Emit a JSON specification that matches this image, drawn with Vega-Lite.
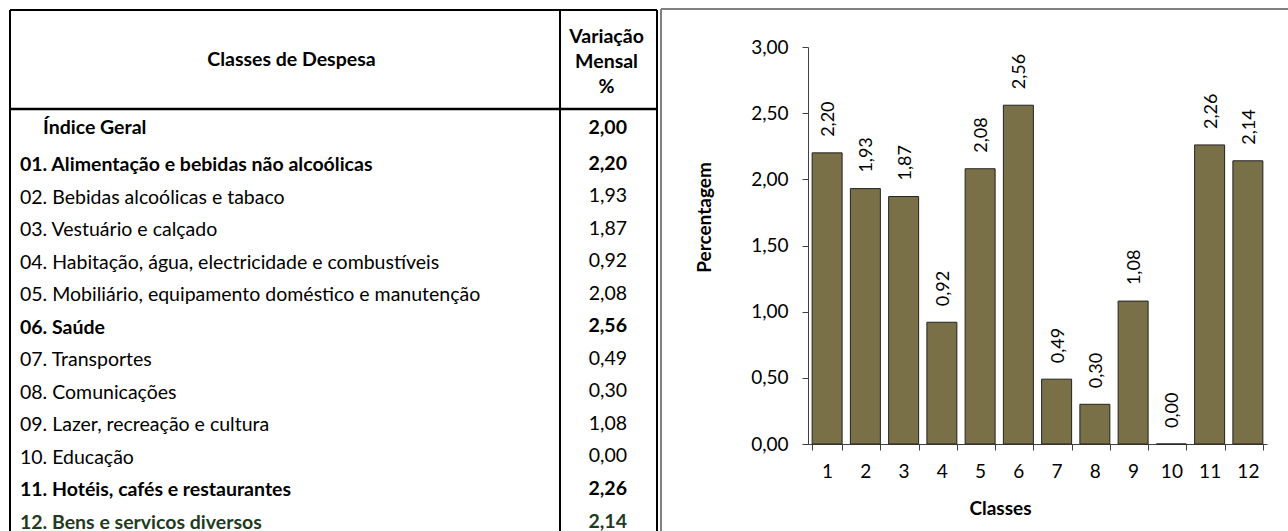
{
  "$schema": "https://vega.github.io/schema/vega-lite/v6.json",
  "width": 459,
  "height": 397,
  "autosize": {"type": "none"},
  "padding": {"left": 808, "top": 47, "right": 21, "bottom": 87},
  "background": "white",
  "config": {
    "view": {"stroke": null},
    "font": "Lato",
    "locale": {"number": {"decimal": ",", "thousands": ".", "grouping": [3], "currency": ["", " €"]}}
  },
  "datasets": {
    "ipc": [
      {"num": 0, "classe": "Índice Geral", "valor": 2.00},
      {"num": 1, "classe": "01. Alimentação e bebidas não alcoólicas", "valor": 2.20},
      {"num": 2, "classe": "02. Bebidas alcoólicas e tabaco", "valor": 1.93},
      {"num": 3, "classe": "03. Vestuário e calçado", "valor": 1.87},
      {"num": 4, "classe": "04. Habitação, água, electricidade e combustíveis", "valor": 0.92},
      {"num": 5, "classe": "05. Mobiliário, equipamento doméstico e manutenção", "valor": 2.08},
      {"num": 6, "classe": "06. Saúde", "valor": 2.56},
      {"num": 7, "classe": "07. Transportes", "valor": 0.49},
      {"num": 8, "classe": "08. Comunicações", "valor": 0.30},
      {"num": 9, "classe": "09. Lazer, recreação e cultura", "valor": 1.08},
      {"num": 10, "classe": "10. Educação", "valor": 0.00},
      {"num": 11, "classe": "11. Hotéis, cafés e restaurantes", "valor": 2.26},
      {"num": 12, "classe": "12. Bens e servicos diversos", "valor": 2.14}
    ]
  },
  "data": {"name": "ipc"},
  "layer": [
    {
      "layer": [
        {
          "data": {"values": [{}]},
          "mark": {"type": "rule", "color": "black", "strokeWidth": 2},
          "encoding": {
            "x": {"datum": 0, "type": "quantitative", "scale": {"domain": [0, 1], "range": [-798, -151], "nice": false, "zero": false}, "axis": null},
            "y": {"datum": -3.763, "type": "quantitative", "scale": {"domain": [1, 12], "range": [118, 476], "nice": false, "zero": false}, "axis": null},
            "y2": {"datum": 13.5}
          }
        },
        {
          "data": {"values": [{}]},
          "mark": {"type": "rule", "color": "black", "strokeWidth": 2},
          "encoding": {
            "x": {"datum": 1, "type": "quantitative"},
            "y": {"datum": -3.763, "type": "quantitative"},
            "y2": {"datum": 13.5}
          }
        },
        {
          "data": {"values": [{}]},
          "mark": {"type": "rule", "color": "black", "strokeWidth": 2},
          "encoding": {
            "x": {"datum": 0.8501, "type": "quantitative"},
            "y": {"datum": -3.763, "type": "quantitative"},
            "y2": {"datum": 13.5}
          }
        },
        {
          "data": {"values": [{}]},
          "mark": {"type": "rule", "color": "black", "strokeWidth": 2},
          "encoding": {
            "x": {"datum": 0, "type": "quantitative"},
            "x2": {"datum": 1},
            "y": {"datum": -3.763, "type": "quantitative"}
          }
        },
        {
          "data": {"values": [{}]},
          "mark": {"type": "rule", "color": "black", "strokeWidth": 2.5},
          "encoding": {
            "x": {"datum": 0, "type": "quantitative"},
            "x2": {"datum": 1},
            "y": {"datum": -0.721, "type": "quantitative"}
          }
        },
        {
          "data": {"values": [{}]},
          "mark": {"type": "rule", "color": "#808080", "strokeWidth": 2},
          "encoding": {
            "x": {"datum": 1.0062, "type": "quantitative"},
            "x2": {"datum": 2},
            "y": {"datum": -3.794, "type": "quantitative"}
          }
        },
        {
          "data": {"values": [{}]},
          "mark": {"type": "rule", "color": "#808080", "strokeWidth": 2},
          "encoding": {
            "x": {"datum": 1.0062, "type": "quantitative"},
            "y": {"datum": -3.794, "type": "quantitative"},
            "y2": {"datum": 13.5}
          }
        },
        {
          "data": {"values": [{"titulo": "Classes de Despesa"}]},
          "mark": {"type": "text", "align": "center", "baseline": "middle", "fontSize": 19.5, "fontWeight": "bold", "color": "black"},
          "encoding": {
            "text": {"field": "titulo"},
            "x": {"datum": 0.435, "type": "quantitative"},
            "y": {"datum": -2.226, "type": "quantitative"}
          }
        },
        {
          "data": {"values": [{"titulo": "Variação\nMensal\n%"}]},
          "mark": {"type": "text", "align": "center", "baseline": "middle", "fontSize": 19.5, "fontWeight": "bold", "color": "black", "lineBreak": "\n", "lineHeight": 25},
          "encoding": {
            "text": {"field": "titulo"},
            "x": {"datum": 0.922, "type": "quantitative"},
            "y": {"datum": -2.933, "type": "quantitative"}
          }
        },
        {
          "transform": [{"filter": "datum.num > 0 && indexof([1, 6, 11, 12], datum.num) < 0"}],
          "mark": {"type": "text", "align": "left", "baseline": "middle", "fontSize": 19.5, "dx": 10, "color": "black"},
          "encoding": {
            "text": {"field": "classe"},
            "x": {"datum": 0, "type": "quantitative"},
            "y": {"field": "num", "type": "quantitative"}
          }
        },
        {
          "transform": [{"filter": "indexof([1, 6, 11, 12], datum.num) >= 0"}],
          "mark": {"type": "text", "align": "left", "baseline": "middle", "fontSize": 19.5, "dx": 10, "fontWeight": "bold"},
          "encoding": {
            "text": {"field": "classe"},
            "x": {"datum": 0, "type": "quantitative"},
            "y": {"field": "num", "type": "quantitative"},
            "color": {"condition": {"test": "datum.num == 12", "value": "#1F3B1F"}, "value": "black"}
          }
        },
        {
          "transform": [{"filter": "datum.num == 0"}],
          "mark": {"type": "text", "align": "left", "baseline": "middle", "fontSize": 19.5, "dx": 33, "dy": -4.5, "fontWeight": "bold", "color": "black"},
          "encoding": {
            "text": {"field": "classe"},
            "x": {"datum": 0, "type": "quantitative"},
            "y": {"field": "num", "type": "quantitative"}
          }
        },
        {
          "transform": [{"filter": "datum.num > 0 && indexof([1, 6, 11, 12], datum.num) < 0"}],
          "mark": {"type": "text", "align": "right", "baseline": "middle", "fontSize": 19.5, "dx": -30, "dy": -1.5, "color": "black"},
          "encoding": {
            "text": {"field": "valor", "type": "quantitative", "format": ".2f"},
            "x": {"datum": 1, "type": "quantitative"},
            "y": {"field": "num", "type": "quantitative"}
          }
        },
        {
          "transform": [{"filter": "indexof([1, 6, 11, 12], datum.num) >= 0"}],
          "mark": {"type": "text", "align": "right", "baseline": "middle", "fontSize": 19.5, "dx": -30, "dy": -1.5, "fontWeight": "bold"},
          "encoding": {
            "text": {"field": "valor", "type": "quantitative", "format": ".2f"},
            "x": {"datum": 1, "type": "quantitative"},
            "y": {"field": "num", "type": "quantitative"},
            "color": {"condition": {"test": "datum.num == 12", "value": "#1F3B1F"}, "value": "black"}
          }
        },
        {
          "transform": [{"filter": "datum.num == 0"}],
          "mark": {"type": "text", "align": "right", "baseline": "middle", "fontSize": 19.5, "dx": -30, "dy": -4.5, "fontWeight": "bold", "color": "black"},
          "encoding": {
            "text": {"field": "valor", "type": "quantitative", "format": ".2f"},
            "x": {"datum": 1, "type": "quantitative"},
            "y": {"field": "num", "type": "quantitative"}
          }
        }
      ]
    },
    {
      "transform": [{"filter": "datum.num >= 1"}],
      "layer": [
        {
          "mark": {"type": "bar", "fill": "#7A7048", "stroke": "#222222", "strokeWidth": 1},
          "encoding": {
            "x": {
              "field": "num", "type": "ordinal",
              "scale": {"paddingInner": 0.216, "paddingOuter": 0.108},
              "axis": {
                "orient": "bottom",
                "title": "Classes", "labelAngle": 0, "tickBand": "extent", "tickSize": 6,
                "labelPadding": 12, "labelFontSize": 19, "labelColor": "black",
                "domainColor": "#404040", "tickColor": "#404040",
                "titleFontSize": 19, "titleFontWeight": "bold", "titleColor": "black",
                "titleX": 192, "titleY": 64, "titleAlign": "center", "titleBaseline": "middle"
              }
            },
            "y": {
              "field": "valor", "type": "quantitative",
              "scale": {"domain": [0, 3], "nice": false},
              "axis": {
                "orient": "left",
                "title": "Percentagem", "values": [0, 0.5, 1, 1.5, 2, 2.5, 3], "format": ".2f",
                "grid": false, "tickSize": 6, "labelPadding": 14, "labelFontSize": 19, "labelColor": "black",
                "domainColor": "#404040", "tickColor": "#404040",
                "titleFontSize": 19, "titleFontWeight": "bold", "titleColor": "black",
                "titleX": -104, "titleY": 170, "titleAlign": "center", "titleBaseline": "middle"
              }
            }
          }
        },
        {
          "mark": {"type": "text", "angle": 270, "align": "left", "baseline": "middle", "dx": 16, "dy": 2, "fontSize": 18, "color": "black"},
          "encoding": {
            "x": {"field": "num", "type": "ordinal"},
            "y": {"field": "valor", "type": "quantitative"},
            "text": {"field": "valor", "type": "quantitative", "format": ".2f"}
          }
        }
      ]
    }
  ],
  "resolve": {"scale": {"x": "independent", "y": "independent"}}
}
